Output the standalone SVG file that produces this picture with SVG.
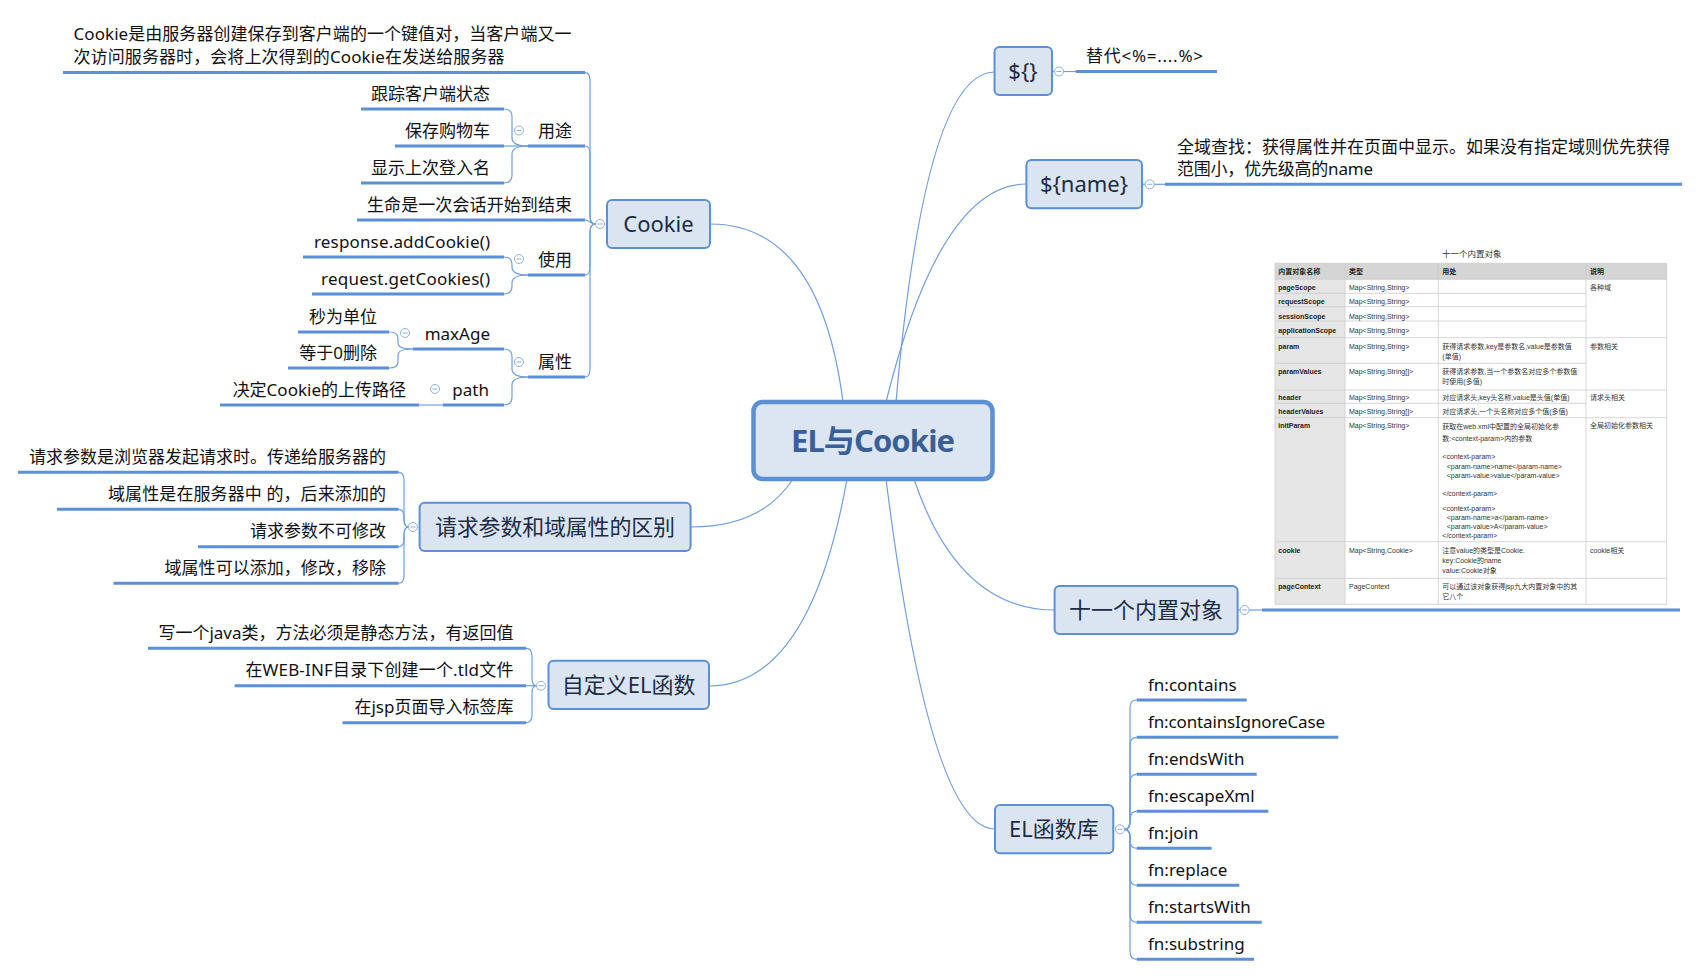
<svg xmlns="http://www.w3.org/2000/svg" xmlns:xlink="http://www.w3.org/1999/xlink" width="1699" height="976" viewBox="0 0 1699 976">
<style>
.t{font-family:"Noto Sans","Noto Sans CJK SC",sans-serif}
.box{fill:#dbe5f2;stroke:#5b8fd6;stroke-width:2}
.mt{font-size:22px;fill:#1d2b44;text-anchor:middle}
.st{font-size:17px;fill:#111}
.e{text-anchor:end}
.ul{stroke:#5b8fd6;stroke-width:3;fill:none}
.cn{stroke:#6e9ee0;stroke-width:1.2;fill:none}
.cbc{fill:#fff;stroke:#8cb0e2;stroke-width:1}
.cbl{stroke:#8cb0e2;stroke-width:1}
.tb text{font-family:"Liberation Sans","Noto Sans CJK SC",sans-serif;font-size:7px;fill:#333}
.tb .b{font-weight:bold;fill:#222}
.gl{stroke:#cbcbcb;stroke-width:0.8}
</style>
<defs>
<g id="cb"><circle class="cbc" r="4.5"/><line class="cbl" x1="-2.5" y1="0" x2="2.5" y2="0"/></g>
</defs>
<rect width="1699" height="976" fill="#fff"/>

<g id="connectors">
<path class="cn" d="M710,224 Q820,224 843,402"/>
<path class="cn" d="M793,479 Q762,527 691,527"/>
<path class="cn" d="M847,479 Q810,686 709,686"/>
<path class="cn" d="M886,479 Q930,829 995,829"/>
<path class="cn" d="M914,479 Q958,610 1055,610"/>
<path class="cn" d="M896,402 Q925,72 994.5,72"/>
<path class="cn" d="M886,402 Q940,184 1026.4,184"/>
<path class="cn" d="M595.5,224 Q590,224 590,216 V80.6 Q590,72.6 585,72.6"/>
<path class="cn" d="M595.5,224 Q590,224 590,216 V154 Q590,146 585,146"/>
<path class="cn" d="M595.5,224 C590,224 590,220 585,220"/>
<path class="cn" d="M595.5,224 Q590,224 590,232 V267 Q590,275 585,275"/>
<path class="cn" d="M595.5,224 Q590,224 590,232 V369 Q590,377 585,377"/>
<path class="cn" d="M528,146 Q512,146 512,138 V117 Q512,109 504,109"/>
<path class="cn" d="M528,146 L504,146"/>
<path class="cn" d="M528,146 Q512,146 512,154 V175 Q512,183 504,183"/>
<path class="cn" d="M528,275 Q512,275 512,267 V265 Q512,257 504,257"/>
<path class="cn" d="M528,275 Q512,275 512,283 V286 Q512,294 504,294"/>
<path class="cn" d="M528,377 Q512,377 512,369 V357 Q512,349 504,349"/>
<path class="cn" d="M528,377 Q512,377 512,385 V397 Q512,405 504,405"/>
<path class="cn" d="M413,349 Q398,349 398,343 V338 Q398,332 389,332"/>
<path class="cn" d="M413,349 Q398,349 398,355 V362 Q398,368 389,368"/>
<path class="cn" d="M443,405 L419,405"/>
<path class="cn" d="M408.5,527 Q404,527 404,519 V480 Q404,472.3 398.6,472.3"/>
<path class="cn" d="M408.5,527 Q404,527 404,519 V517 Q404,509.3 398.6,509.3"/>
<path class="cn" d="M408.5,527 Q404,527 404,535 V539 Q404,546.7 398.6,546.7"/>
<path class="cn" d="M408.5,527 Q404,527 404,535 V575.5 Q404,583.3 398.6,583.3"/>
<path class="cn" d="M536.5,685.7 Q532,685.7 532,678 V656 Q532,648.3 526,648.3"/>
<path class="cn" d="M536.5,685.7 L526,685.7"/>
<path class="cn" d="M536.5,685.7 Q532,685.7 532,693.5 V715 Q532,722.7 526,722.7"/>
<path class="cn" d="M1124.5,829.3 Q1130,829.3 1130,821.3 V708 Q1130,700 1136.7,700"/>
<path class="cn" d="M1124.5,829.3 Q1130,829.3 1130,821.3 V745.3 Q1130,737.3 1136.7,737.3"/>
<path class="cn" d="M1124.5,829.3 Q1130,829.3 1130,821.3 V782.3 Q1130,774.3 1136.7,774.3"/>
<path class="cn" d="M1124.5,829.3 Q1130,829.3 1130,821.3 V819.3 Q1130,811.3 1136.7,811.3"/>
<path class="cn" d="M1124.5,829.3 Q1130,829.3 1130,837.3 V840.3 Q1130,848.3 1136.7,848.3"/>
<path class="cn" d="M1124.5,829.3 Q1130,829.3 1130,837.3 V877.3 Q1130,885.3 1136.7,885.3"/>
<path class="cn" d="M1124.5,829.3 Q1130,829.3 1130,837.3 V914.3 Q1130,922.3 1136.7,922.3"/>
<path class="cn" d="M1124.5,829.3 Q1130,829.3 1130,837.3 V951.3 Q1130,959.3 1136.7,959.3"/>
<path class="cn" d="M1052,71.5 L1076,71.5"/>
<path class="cn" d="M1142,184.3 L1165,184.3"/>
<path class="cn" d="M1237.5,610 L1262,610"/>
</g>

<g id="central">
<rect x="753.5" y="402" width="239" height="77" rx="9" fill="#dce6f2" stroke="#5b8fd6" stroke-width="4.5"/>
<text class="t" x="873" y="451.5" font-size="31" font-weight="bold" fill="#3a5f96" text-anchor="middle" textLength="164">EL与Cookie</text>
</g>

<g id="n-cookie">
<rect class="box" x="607" y="200" width="103" height="48" rx="5"/>
<text class="t mt" x="658.5" y="232">Cookie</text>
<use xlink:href="#cb" x="600" y="224"/>
</g>
<g id="n-cookie-def">
<text class="t st" x="73.5" y="39.5" textLength="498">Cookie是由服务器创建保存到客户端的一个键值对，当客户端又一</text>
<text class="t st" x="73.5" y="62.5" textLength="431">次访问服务器时，会将上次得到的Cookie在发送给服务器</text>
<line class="ul" x1="63" y1="72.6" x2="585" y2="72.6"/>
</g>
<g id="n-use">
<text class="t st" x="538" y="136.5">用途</text>
<line class="ul" x1="528" y1="146" x2="585" y2="146"/>
<use xlink:href="#cb" x="519" y="130.5"/>
</g>
<g id="n-use-1"><text class="t st e" x="490" y="99.5">跟踪客户端状态</text><line class="ul" x1="361" y1="109" x2="504" y2="109"/></g>
<g id="n-use-2"><text class="t st e" x="490" y="136.5">保存购物车</text><line class="ul" x1="395" y1="146" x2="504" y2="146"/></g>
<g id="n-use-3"><text class="t st e" x="490" y="173.5">显示上次登入名</text><line class="ul" x1="361" y1="183" x2="504" y2="183"/></g>
<g id="n-life"><text class="t st e" x="572" y="210.5" textLength="205">生命是一次会话开始到结束</text><line class="ul" x1="357" y1="220" x2="585" y2="220"/></g>
<g id="n-usage">
<text class="t st" x="538" y="265.5">使用</text>
<line class="ul" x1="528" y1="275" x2="585" y2="275"/>
<use xlink:href="#cb" x="519" y="259"/>
</g>
<g id="n-usage-1"><text class="t st e" x="490" y="248" textLength="176">response.addCookie()</text><line class="ul" x1="303" y1="257" x2="504" y2="257"/></g>
<g id="n-usage-2"><text class="t st e" x="490" y="284.5" textLength="169">request.getCookies()</text><line class="ul" x1="312" y1="294" x2="504" y2="294"/></g>
<g id="n-attr">
<text class="t st" x="538" y="367.5">属性</text>
<line class="ul" x1="528" y1="377" x2="585" y2="377"/>
<use xlink:href="#cb" x="519" y="362"/>
</g>
<g id="n-maxage">
<text class="t st e" x="490" y="339.5">maxAge</text>
<line class="ul" x1="413" y1="349" x2="504" y2="349"/>
<use xlink:href="#cb" x="405" y="333"/>
</g>
<g id="n-maxage-1"><text class="t st e" x="377" y="322.5">秒为单位</text><line class="ul" x1="298" y1="332" x2="389" y2="332"/></g>
<g id="n-maxage-2"><text class="t st e" x="377" y="358.5">等于0删除</text><line class="ul" x1="288" y1="368" x2="389" y2="368"/></g>
<g id="n-path">
<text class="t st e" x="489" y="395.5">path</text>
<line class="ul" x1="443" y1="405" x2="504" y2="405"/>
<use xlink:href="#cb" x="435" y="389"/>
</g>
<g id="n-path-1"><text class="t st e" x="406" y="395.5">决定Cookie的上传路径</text><line class="ul" x1="220" y1="405" x2="419" y2="405"/></g>

<g id="n-req">
<rect class="box" x="419.6" y="502.7" width="271" height="48.3" rx="5"/>
<text class="t mt" x="555" y="535" textLength="240">请求参数和域属性的区别</text>
<use xlink:href="#cb" x="413" y="527"/>
</g>
<g id="n-req-1"><text class="t st e" x="386" y="462.8" textLength="357">请求参数是浏览器发起请求时。传递给服务器的</text><line class="ul" x1="18" y1="472.3" x2="398.6" y2="472.3"/></g>
<g id="n-req-2"><text class="t st e" x="386" y="499.8" textLength="278">域属性是在服务器中 的，后来添加的</text><line class="ul" x1="57" y1="509.3" x2="398.6" y2="509.3"/></g>
<g id="n-req-3"><text class="t st e" x="386" y="537.2">请求参数不可修改</text><line class="ul" x1="198" y1="546.7" x2="398.6" y2="546.7"/></g>
<g id="n-req-4"><text class="t st e" x="386" y="573.8" textLength="221.5">域属性可以添加，修改，移除</text><line class="ul" x1="113.5" y1="583.3" x2="398.6" y2="583.3"/></g>

<g id="n-custom">
<rect class="box" x="548.5" y="660.7" width="160.5" height="48.3" rx="5"/>
<text class="t mt" x="628.7" y="693">自定义EL函数</text>
<use xlink:href="#cb" x="541" y="685.7"/>
</g>
<g id="n-custom-1"><text class="t st e" x="513.4" y="638.8" textLength="355">写一个java类，方法必须是静态方法，有返回值</text><line class="ul" x1="148" y1="648.3" x2="526" y2="648.3"/></g>
<g id="n-custom-2"><text class="t st e" x="513.4" y="676.2" textLength="268">在WEB-INF目录下创建一个.tld文件</text><line class="ul" x1="234.7" y1="685.7" x2="526" y2="685.7"/></g>
<g id="n-custom-3"><text class="t st e" x="513.4" y="713.2">在jsp页面导入标签库</text><line class="ul" x1="342.5" y1="722.7" x2="526" y2="722.7"/></g>

<g id="n-dollar">
<rect class="box" x="994.5" y="47" width="57.5" height="48" rx="5"/>
<text class="t mt" x="1023" y="79">${}</text>
<use xlink:href="#cb" x="1059" y="71.5"/>
</g>
<g id="n-dollar-1"><text class="t st" x="1086" y="61.5" textLength="117">替代&lt;%=....%&gt;</text><line class="ul" x1="1075.8" y1="71.5" x2="1217" y2="71.5"/></g>

<g id="n-dname">
<rect class="box" x="1026.4" y="160" width="115.6" height="48.3" rx="5"/>
<text class="t mt" x="1084" y="192">${name}</text>
<use xlink:href="#cb" x="1149.7" y="184.3"/>
</g>
<g id="n-dname-1">
<text class="t st" x="1177" y="153" textLength="493">全域查找：获得属性并在页面中显示。如果没有指定域则优先获得</text>
<text class="t st" x="1177" y="175" textLength="196">范围小，优先级高的name</text>
<line class="ul" x1="1165" y1="184.3" x2="1682" y2="184.3"/>
</g>

<g id="n-eleven">
<rect class="box" x="1054.6" y="586" width="183" height="48" rx="5"/>
<text class="t mt" x="1146" y="618">十一个内置对象</text>
<use xlink:href="#cb" x="1244.6" y="610"/>
</g>
<g id="n-eleven-1">
<line class="ul" x1="1262" y1="610" x2="1680" y2="610"/>
<g class="tb" id="table-image">
<text x="1471.7" y="256.5" text-anchor="middle" style="font-size:8.5px">十一个内置对象</text>
<rect x="1275" y="263.3" width="391.7" height="341" fill="#fff"/>
<rect x="1275" y="263.3" width="391.7" height="16" fill="#d5d5d5"/>
<rect x="1275" y="279.3" width="70" height="325" fill="#e6e6e6"/>
<g class="gl">
<line x1="1275" y1="263.3" x2="1275" y2="604.3"/>
<line x1="1345" y1="263.3" x2="1345" y2="604.3"/>
<line x1="1438.3" y1="263.3" x2="1438.3" y2="604.3"/>
<line x1="1586" y1="263.3" x2="1586" y2="604.3"/>
<line x1="1666.7" y1="263.3" x2="1666.7" y2="604.3"/>
<line x1="1275" y1="263.3" x2="1666.7" y2="263.3"/>
<line x1="1275" y1="279.3" x2="1666.7" y2="279.3"/>
<line x1="1275" y1="293.3" x2="1586" y2="293.3"/>
<line x1="1275" y1="306.7" x2="1586" y2="306.7"/>
<line x1="1275" y1="321" x2="1586" y2="321"/>
<line x1="1275" y1="337.7" x2="1666.7" y2="337.7"/>
<line x1="1275" y1="363.3" x2="1586" y2="363.3"/>
<line x1="1275" y1="390" x2="1666.7" y2="390"/>
<line x1="1275" y1="403.3" x2="1586" y2="403.3"/>
<line x1="1275" y1="417.7" x2="1666.7" y2="417.7"/>
<line x1="1275" y1="541.7" x2="1666.7" y2="541.7"/>
<line x1="1275" y1="578.3" x2="1666.7" y2="578.3"/>
<line x1="1275" y1="604.3" x2="1666.7" y2="604.3"/>
</g>
<text class="b" x="1278.3" y="274.2">内置对象名称</text>
<text class="b" x="1349" y="274.2">类型</text>
<text class="b" x="1442.3" y="274.2">用处</text>
<text class="b" x="1590" y="274.2">说明</text>
<text class="b" x="1278.3" y="290.2">pageScope</text>
<text class="b" x="1278.3" y="304.2">requestScope</text>
<text class="b" x="1278.3" y="318.5">sessionScope</text>
<text class="b" x="1278.3" y="333.2">applicationScope</text>
<text class="b" x="1278.3" y="348.5">param</text>
<text class="b" x="1278.3" y="373.5">paramValues</text>
<text class="b" x="1278.3" y="400.2">header</text>
<text class="b" x="1278.3" y="413.5">headerValues</text>
<text class="b" x="1278.3" y="427.5">initParam</text>
<text class="b" x="1278.3" y="552.5">cookie</text>
<text class="b" x="1278.3" y="588.5">pageContext</text>
<text x="1349" y="290.2">Map&lt;String,String&gt;</text>
<text x="1349" y="304.2">Map&lt;String,String&gt;</text>
<text x="1349" y="318.5">Map&lt;String,String&gt;</text>
<text x="1349" y="333.2">Map&lt;String,String&gt;</text>
<text x="1349" y="348.5">Map&lt;String,String&gt;</text>
<text x="1349" y="373.5">Map&lt;String,String[]&gt;</text>
<text x="1349" y="400.2">Map&lt;String,String&gt;</text>
<text x="1349" y="413.5">Map&lt;String,String[]&gt;</text>
<text x="1349" y="427.5">Map&lt;String,String&gt;</text>
<text x="1349" y="552.5">Map&lt;String,Cookie&gt;</text>
<text x="1349" y="588.5">PageContext</text>
<text x="1442.3" y="348.5">获得请求参数,key是参数名,value是参数值</text>
<text x="1442.3" y="359.2">(单值)</text>
<text x="1442.3" y="373.5">获得请求参数,当一个参数名对应多个参数值</text>
<text x="1442.3" y="384.2">时使用(多值)</text>
<text x="1442.3" y="400.2">对应请求头,key头名称,value是头值(单值)</text>
<text x="1442.3" y="413.5">对应请求头,一个头名称对应多个值(多值)</text>
<text x="1442.3" y="429">获取在web.xml中配置的全局初始化参</text>
<text x="1442.3" y="440.5">数:&lt;context-param&gt;内的参数</text>
<text x="1442.3" y="459.2">&lt;context-param&gt;</text>
<text x="1446.7" y="468.8">&lt;param-name&gt;name&lt;/param-name&gt;</text>
<text x="1446.7" y="477.5">&lt;param-value&gt;value&lt;/param-value&gt;</text>
<text x="1442.3" y="495.5">&lt;/context-param&gt;</text>
<text x="1442.3" y="510.8">&lt;context-param&gt;</text>
<text x="1446.7" y="519.8">&lt;param-name&gt;a&lt;/param-name&gt;</text>
<text x="1446.7" y="528.5">&lt;param-value&gt;A&lt;/param-value&gt;</text>
<text x="1442.3" y="537.5">&lt;/context-param&gt;</text>
<text x="1442.3" y="552.5">注意value的类型是Cookie.</text>
<text x="1442.3" y="563.2">key:Cookie的name</text>
<text x="1442.3" y="572.5">value:Cookie对象</text>
<text x="1442.3" y="588.5">可以通过该对象获得jsp九大内置对象中的其</text>
<text x="1442.3" y="598.5">它八个</text>
<text x="1590" y="290.2">各种域</text>
<text x="1590" y="348.5">参数相关</text>
<text x="1590" y="400.2">请求头相关</text>
<text x="1590" y="427.5">全局初始化参数相关</text>
<text x="1590" y="552.5">cookie相关</text>
</g>
</g>

<g id="n-ellib">
<rect class="box" x="995" y="805" width="118.3" height="48.3" rx="5"/>
<text class="t mt" x="1054" y="837">EL函数库</text>
<use xlink:href="#cb" x="1120" y="829.3"/>
</g>
<g id="n-fn-1"><text class="t st" x="1148" y="690.5">fn:contains</text><line class="ul" x1="1136.7" y1="700" x2="1246.7" y2="700"/></g>
<g id="n-fn-2"><text class="t st" x="1148" y="727.8" textLength="177">fn:containsIgnoreCase</text><line class="ul" x1="1136.7" y1="737.3" x2="1338.3" y2="737.3"/></g>
<g id="n-fn-3"><text class="t st" x="1148" y="764.8">fn:endsWith</text><line class="ul" x1="1136.7" y1="774.3" x2="1256.7" y2="774.3"/></g>
<g id="n-fn-4"><text class="t st" x="1148" y="801.8">fn:escapeXml</text><line class="ul" x1="1136.7" y1="811.3" x2="1268.3" y2="811.3"/></g>
<g id="n-fn-5"><text class="t st" x="1148" y="838.8">fn:join</text><line class="ul" x1="1136.7" y1="848.3" x2="1211.7" y2="848.3"/></g>
<g id="n-fn-6"><text class="t st" x="1148" y="875.8">fn:replace</text><line class="ul" x1="1136.7" y1="885.3" x2="1239.3" y2="885.3"/></g>
<g id="n-fn-7"><text class="t st" x="1148" y="912.8">fn:startsWith</text><line class="ul" x1="1136.7" y1="922.3" x2="1261.7" y2="922.3"/></g>
<g id="n-fn-8"><text class="t st" x="1148" y="949.8">fn:substring</text><line class="ul" x1="1136.7" y1="959.3" x2="1254" y2="959.3"/></g>
</svg>
